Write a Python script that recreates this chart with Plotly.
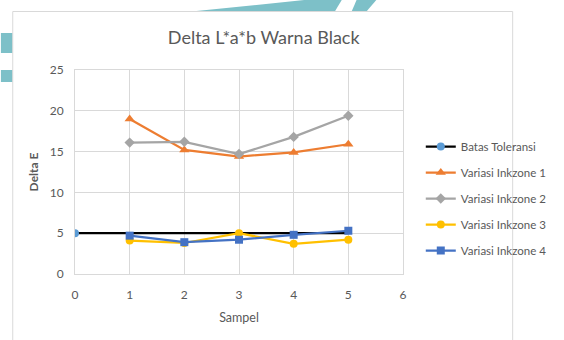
import plotly.graph_objects as go

# ---- data ----
sampel = [1, 2, 3, 4, 5]
batas_x = [0, 5]
batas_y = [5, 5]
inkzone1 = [19.0, 15.2, 14.4, 14.9, 15.9]
inkzone2 = [16.1, 16.2, 14.7, 16.8, 19.4]
inkzone3 = [4.1, 3.8, 5.0, 3.7, 4.2]
inkzone4 = [4.7, 3.9, 4.2, 4.8, 5.3]
x_ticks = [0, 1, 2, 3, 4, 5, 6]
y_ticks = [0, 5, 10, 15, 20, 25]

W, H = 564, 340
L, R, T, B = 75, 407, 70, 274  # plot area in pixels


def px(x):
    return (x - L) / (R - L)


def py(y):
    return (B - y) / (B - T)


def poly(pts):
    return "M " + " L ".join(f"{px(a):.5f},{py(b):.5f}" for a, b in pts) + " Z"


fig = go.Figure()

fig.add_trace(go.Scatter(
    x=batas_x, y=batas_y, name="Batas Toleransi", mode="lines+markers",
    line=dict(color="#000000", width=2.25),
    marker=dict(symbol=["circle", "line-ew"], size=8, color="#5B9BD5",
                line=dict(width=0)),
    legendgroup="a"))
fig.add_trace(go.Scatter(
    x=sampel, y=inkzone1, name="Variasi Inkzone 1", mode="lines+markers",
    line=dict(color="#ED7D31", width=2.25),
    marker=dict(symbol="triangle-up", size=9, color="#ED7D31"),
    legendgroup="b"))
fig.add_trace(go.Scatter(
    x=sampel, y=inkzone2, name="Variasi Inkzone 2", mode="lines+markers",
    line=dict(color="#A5A5A5", width=2.25),
    marker=dict(symbol="diamond", size=8, color="#A5A5A5"),
    legendgroup="c"))
fig.add_trace(go.Scatter(
    x=sampel, y=inkzone3, name="Variasi Inkzone 3", mode="lines+markers",
    line=dict(color="#FFC000", width=2.25),
    marker=dict(symbol="circle", size=8, color="#FFC000"),
    legendgroup="d"))
fig.add_trace(go.Scatter(
    x=sampel, y=inkzone4, name="Variasi Inkzone 4", mode="lines+markers",
    line=dict(color="#4472C4", width=2.25),
    marker=dict(symbol="square", size=8, color="#4472C4"),
    legendgroup="e"))

teal = "#7DC0C8"
shapes = [
    # decorative background
    dict(type="path", path=poly([(193, 11.5), (307, 0), (345, 0), (338, 11.5)]),
         fillcolor=teal, line=dict(width=0)),
    dict(type="path", path=poly([(360, 0), (380, 0), (370, 11.5), (355, 11.5)]),
         fillcolor=teal, line=dict(width=0)),
    dict(type="rect", x0=px(0), x1=px(12), y0=py(33), y1=py(53),
         fillcolor=teal, line=dict(width=0)),
    dict(type="rect", x0=px(0), x1=px(12), y0=py(70), y1=py(82),
         fillcolor=teal, line=dict(width=0)),
    # chart box
    dict(type="rect", x0=px(12), x1=px(518), y0=py(11.5), y1=py(350),
         fillcolor="white", line=dict(color="#D9D9D9", width=1)),
]
for s in shapes:
    s.update(xref="paper", yref="paper", layer="below")

font = "Lato, 'Open Sans', sans-serif"
fig.update_layout(
    width=W, height=H,
    margin=dict(l=L, r=W - R, t=T, b=H - B, pad=0),
    paper_bgcolor="white", plot_bgcolor="rgba(0,0,0,0)",
    shapes=shapes,
    title=dict(text="Delta L*a*b Warna Black", x=px(266), xref="paper",
               xanchor="center", y=1 - 38 / H, yanchor="middle",
               font=dict(family=font, size=18, color="#595959")),
    xaxis=dict(range=[0, 6], tickvals=x_ticks, showgrid=True,
               gridcolor="#D9D9D9", gridwidth=1, zeroline=False,
               showline=True, linecolor="#D9D9D9", mirror=True,
               ticks="", ticklabelstandoff=10,
               tickfont=dict(family=font, size=12, color="#595959"),
               title=dict(text="Sampel", standoff=11,
                          font=dict(family=font, size=12.5, color="#595959"))),
    yaxis=dict(range=[0, 25], tickvals=y_ticks, showgrid=True,
               gridcolor="#D9D9D9", gridwidth=1, zeroline=False,
               showline=True, linecolor="#D9D9D9", mirror=True,
               ticks="", ticklabelstandoff=8,
               tickfont=dict(family=font, size=12, color="#595959"),
               title=dict(text="<b>Delta E</b>", standoff=8,
                          font=dict(family=font, size=12, color="#595959"))),
    showlegend=True,
    legend=dict(x=px(425), y=py(132), xanchor="left", yanchor="top",
                font=dict(family=font, size=11.5, color="#595959"),
                tracegroupgap=7, itemwidth=30,
                bgcolor="rgba(0,0,0,0)"),
)

fig.write_html("out.html", config={"displayModeBar": False},
               post_script="document.body.style.margin='0';document.body.style.padding='0';")
